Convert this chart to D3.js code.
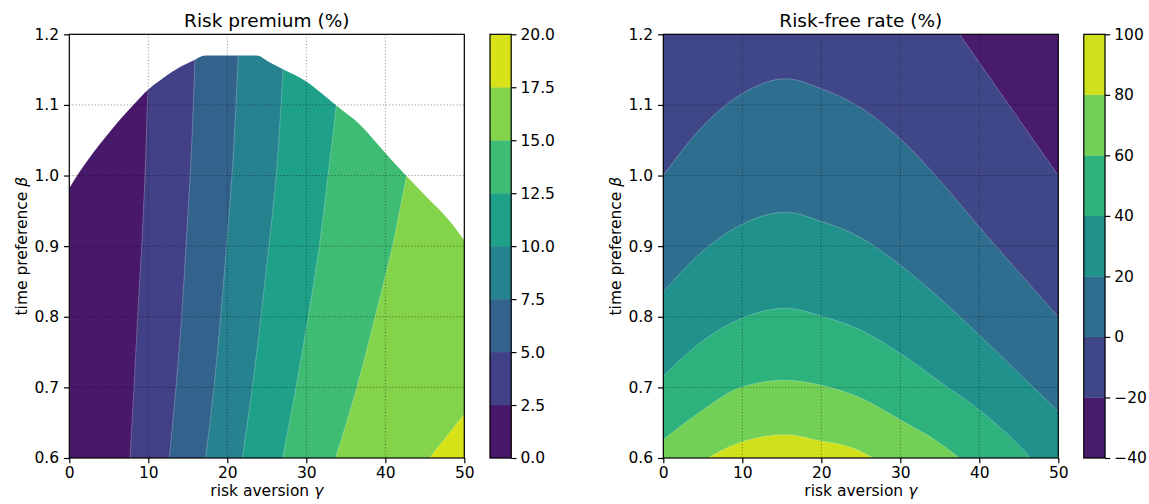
<!DOCTYPE html>
<html>
<head>
<meta charset="utf-8">
<script src="https://cdn.jsdelivr.net/npm/d3@7"></script>
<style>
body { margin: 0; background: #fff; }
svg text { font-family: "DejaVu Sans", sans-serif; fill: #000; }
</style>
</head>
<body>
<div id="chart"></div>
<script>
// axis ticks
var gammaTicks = [0, 10, 20, 30, 40, 50];
var betaTicks = [0.6, 0.7, 0.8, 0.9, 1.0, 1.1, 1.2];

// contour levels
var premiumLevels = [0, 2.5, 5, 7.5, 10, 12.5, 15, 17.5, 20];
var rateLevels = [-40, -20, 0, 20, 40, 60, 80, 100];

// risk premium contour lines, [beta, gamma]
var premium2_5 = [[0.6, 7.68], [0.7, 8.19], [0.8, 8.65], [0.9, 9.16], [1.0, 9.58], [1.1, 9.88], [1.2, 10.2]];
var premium5 = [[0.6, 12.66], [0.7, 13.5], [0.8, 14.22], [0.9, 14.77], [1.0, 15.3], [1.1, 15.7], [1.2, 16.0]];
var premium7_5 = [[0.6, 17.26], [0.7, 18.31], [0.8, 19.16], [0.9, 19.9], [1.0, 20.6], [1.1, 21.1], [1.2, 21.5]];
var premium10 = [[0.6, 21.9], [0.7, 23.16], [0.8, 24.26], [0.9, 25.27], [1.0, 26.2], [1.1, 26.8], [1.2, 27.3]];
var premium12_5 = [[0.6, 27.0], [0.7, 28.7], [0.8, 30.25], [0.9, 31.65], [1.0, 32.75], [1.1, 33.8], [1.2, 34.7]];
var premium15 = [[0.6, 33.7], [0.7, 36.4], [0.8, 38.7], [0.9, 40.9], [1.0, 42.7], [1.1, 44.6], [1.2, 46.5]];
var premium17_5 = [[0.6, 45.6], [0.7, 52.7]];

// upper edge of the region where a risk premium exists, [gamma, beta]
var feasibleEdge = [[0, 0.982], [1.35, 1.006], [3, 1.032], [4.7, 1.056], [6.4, 1.079], [8.1, 1.1],
  [10, 1.122], [11.5, 1.135], [13.6, 1.151], [15.7, 1.163], [17.2, 1.17], [23.7, 1.17],
  [25.4, 1.16], [27.1, 1.15], [30, 1.133], [32.2, 1.114], [33.8, 1.099], [36.8, 1.072],
  [40, 1.032], [42.7, 0.999], [45.2, 0.97], [48.2, 0.935], [50, 0.908]];

// risk-free rate contour lines, [gamma, beta]
var rateM20 = [[0, 1.8], [37.5, 1.2], [50, 1.0]];
var rate0 = [[0, 1.0], [5, 1.07], [10, 1.116], [15.5, 1.137], [20, 1.123], [25, 1.096], [30, 1.052], [35, 0.993], [40, 0.927], [45, 0.863], [50, 0.8]];
var rate20 = [[0, 0.835], [5, 0.893], [10, 0.931], [15.5, 0.948], [20, 0.935], [25, 0.912], [30, 0.873], [35, 0.826], [40, 0.774], [45, 0.72], [50, 0.666]];
var rate40 = [[0, 0.716], [5, 0.766], [10, 0.798], [15.5, 0.812], [20, 0.801], [25, 0.781], [30, 0.748], [35, 0.708], [40, 0.668], [45, 0.618], [46.5, 0.6]];
var rate60 = [[0, 0.626], [5, 0.668], [10, 0.701], [15.5, 0.71], [20, 0.703], [25, 0.685], [30, 0.654], [35, 0.621], [37.5, 0.6]];
var rate80 = [[5.7, 0.6], [8, 0.614], [10, 0.623], [15.5, 0.633], [20, 0.624], [23.5, 0.616], [26.6, 0.6]];

var premiumLines = [premium2_5, premium5, premium7_5, premium10, premium12_5, premium15, premium17_5];
var rateLines = [rateM20, rate0, rate20, rate40, rate60, rate80];

var W = 395, plotTop = 34.3, plotBottom = 458;
var fs = "15.5px";
var svg = d3.select("#chart").append("svg").attr("width", 1149).attr("height", 504);

function bandColor(levels) {
    var n = levels.length - 1;
    return function(i) { return d3.interpolateViridis((i + 0.5) / n); };
}

function drawFrame(left, cbLeft, title, levels, cbFormat) {
    var x = d3.scaleLinear().domain([0, 50]).range([left, left + W]);
    var y = d3.scaleLinear().domain([0.6, 1.2]).range([plotBottom, plotTop]);

    // dotted grid
    var grid = svg.append("g").attr("stroke", "#000").attr("stroke-opacity", 0.5)
        .attr("stroke-width", 0.8).attr("stroke-dasharray", "1.2,2");
    gammaTicks.slice(1, -1).forEach(function(t) {
        grid.append("line").attr("x1", x(t)).attr("x2", x(t)).attr("y1", plotTop).attr("y2", plotBottom);
    });
    betaTicks.slice(1, -1).forEach(function(t) {
        grid.append("line").attr("x1", left).attr("x2", left + W).attr("y1", y(t)).attr("y2", y(t));
    });

    svg.append("rect").attr("x", left).attr("y", plotTop).attr("width", W).attr("height", plotBottom - plotTop)
        .attr("fill", "none").attr("stroke", "#000").attr("stroke-width", 1.2);

    var xAxis = svg.append("g").attr("transform", "translate(0," + plotBottom + ")")
        .call(d3.axisBottom(x).tickValues(gammaTicks).tickSizeOuter(0).tickSize(5.25).tickPadding(4));
    var yAxis = svg.append("g").attr("transform", "translate(" + left + ",0)")
        .call(d3.axisLeft(y).tickValues(betaTicks).tickFormat(d3.format(".1f")).tickSizeOuter(0).tickSize(5.25).tickPadding(5));
    [xAxis, yAxis].forEach(function(a) {
        a.select(".domain").remove();
        a.selectAll("line").attr("stroke-width", 1.2);
        a.selectAll("text").style("font-size", fs).style("font-family", "DejaVu Sans");
    });

    svg.append("text").attr("x", left + W / 2).attr("y", 26.5).attr("text-anchor", "middle")
        .style("font-size", "18.5px").text(title);

    var xl = svg.append("text").attr("x", left + W / 2).attr("y", 496).attr("text-anchor", "middle")
        .style("font-size", fs).text("risk aversion ");
    xl.append("tspan").style("font-style", "italic").text("γ");

    var yl = svg.append("text").attr("transform", "translate(" + (left - 48) + "," + ((plotTop + plotBottom) / 2) + ") rotate(-90)")
        .attr("dy", "0.35em").attr("text-anchor", "middle").style("font-size", fs).text("time preference ");
    yl.append("tspan").style("font-style", "italic").text("β");

    // colorbar
    var color = bandColor(levels);
    var c = d3.scaleLinear().domain([levels[0], levels[levels.length - 1]]).range([plotBottom, plotTop]);
    var cbW = 21.2;
    var cb = svg.append("g");
    levels.slice(0, -1).forEach(function(lv, i) {
        cb.append("rect").attr("x", cbLeft).attr("width", cbW)
            .attr("y", c(levels[i + 1])).attr("height", c(lv) - c(levels[i + 1]))
            .attr("fill", color(i)).attr("stroke", color(i)).attr("stroke-width", 0.3);
    });
    cb.append("rect").attr("x", cbLeft).attr("y", plotTop).attr("width", cbW).attr("height", plotBottom - plotTop)
        .attr("fill", "none").attr("stroke", "#000").attr("stroke-width", 1.2);
    var cAxis = svg.append("g").attr("transform", "translate(" + (cbLeft + cbW) + ",0)")
        .call(d3.axisRight(c).tickValues(levels).tickFormat(cbFormat).tickSizeOuter(0).tickSize(5.25).tickPadding(4));
    cAxis.select(".domain").remove();
    cAxis.selectAll("line").attr("stroke-width", 1.2);
    cAxis.selectAll("text").style("font-size", fs).style("font-family", "DejaVu Sans");

    return {x: x, y: y, color: color};
}

function addClip(id, left) {
    svg.append("clipPath").attr("id", id).append("rect")
        .attr("x", left).attr("y", plotTop).attr("width", W).attr("height", plotBottom - plotTop);
}

// ---------- left panel: risk premium ----------
(function() {
    var left = 69.3;
    addClip("clipL", left);
    var x = d3.scaleLinear().domain([0, 50]).range([left, left + W]);
    var y = d3.scaleLinear().domain([0.6, 1.2]).range([plotBottom, plotTop]);
    var color = bandColor(premiumLevels);
    var g = svg.append("g").attr("clip-path", "url(#clipL)");

    g.append("rect").attr("x", left).attr("y", plotTop).attr("width", W).attr("height", plotBottom - plotTop)
        .attr("fill", color(0));

    var area = d3.area().curve(d3.curveMonotoneY)
        .y(function(d) { return y(d[0]); })
        .x0(function(d) { return x(d[1]); })
        .x1(x(50));
    var line = d3.line().curve(d3.curveMonotoneY)
        .y(function(d) { return y(d[0]); })
        .x(function(d) { return x(d[1]); });

    premiumLines.forEach(function(l, i) {
        g.append("path").datum(l).attr("d", area).attr("fill", color(i + 1));
    });
    premiumLines.forEach(function(l) {
        g.append("path").datum(l).attr("d", line).attr("fill", "none")
            .attr("stroke", "#fff").attr("stroke-opacity", 0.35).attr("stroke-width", 0.7);
    });

    // no solution above the edge
    g.append("path").datum(feasibleEdge)
        .attr("d", d3.area().curve(d3.curveMonotoneX)
            .x(function(d) { return x(d[0]); })
            .y0(plotTop)
            .y1(function(d) { return y(d[1]); }))
        .attr("fill", "#fff");

    drawFrame(left, 490, "Risk premium (%)", premiumLevels, d3.format(".1f"));
})();

// ---------- right panel: risk-free rate ----------
(function() {
    var left = 663.3;
    addClip("clipR", left);
    var x = d3.scaleLinear().domain([0, 50]).range([left, left + W]);
    var y = d3.scaleLinear().domain([0.6, 1.2]).range([plotBottom, plotTop]);
    var color = bandColor(rateLevels);
    var g = svg.append("g").attr("clip-path", "url(#clipR)");

    g.append("rect").attr("x", left).attr("y", plotTop).attr("width", W).attr("height", plotBottom - plotTop)
        .attr("fill", color(0));

    var area = d3.area().curve(d3.curveMonotoneX)
        .x(function(d) { return x(d[0]); })
        .y0(y(0.6))
        .y1(function(d) { return y(d[1]); });
    var line = d3.line().curve(d3.curveMonotoneX)
        .x(function(d) { return x(d[0]); })
        .y(function(d) { return y(d[1]); });

    rateLines.forEach(function(l, i) {
        g.append("path").datum(l).attr("d", area).attr("fill", color(i + 1));
    });
    rateLines.forEach(function(l) {
        g.append("path").datum(l).attr("d", line).attr("fill", "none")
            .attr("stroke", "#fff").attr("stroke-opacity", 0.35).attr("stroke-width", 0.7);
    });

    drawFrame(left, 1083.8, "Risk-free rate (%)", rateLevels, d3.format("d"));
})();
</script>
</body>
</html>
